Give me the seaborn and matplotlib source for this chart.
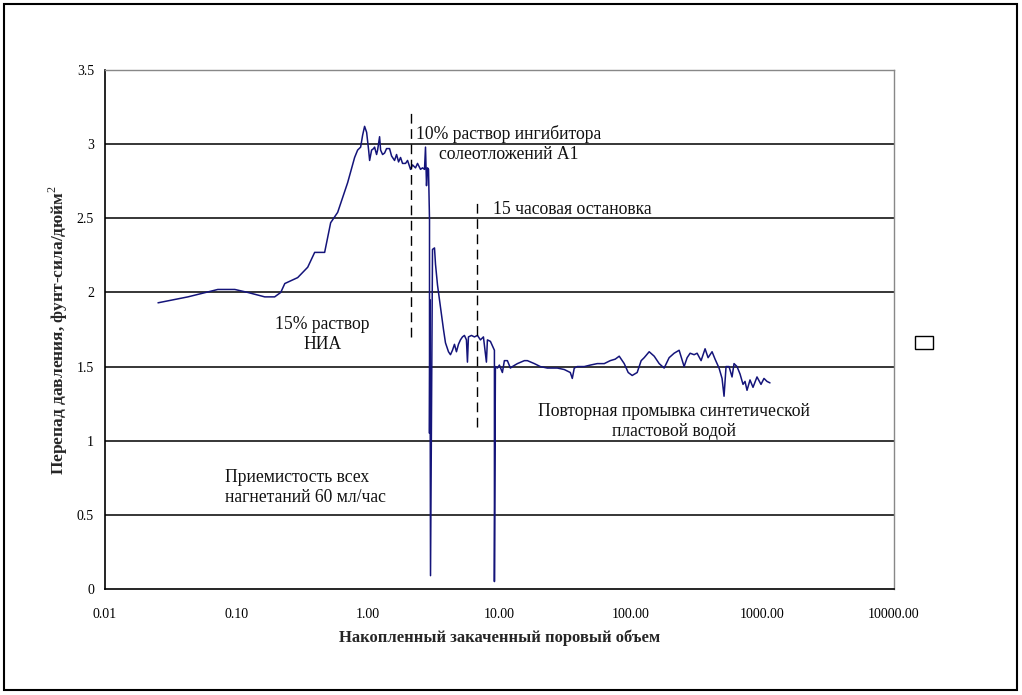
import numpy as np
import pandas as pd
import matplotlib
matplotlib.use("Agg")
import matplotlib.pyplot as plt
from matplotlib.patches import Rectangle
from matplotlib.ticker import FixedLocator, FixedFormatter
import seaborn as sns

# ---- data ----
pore_volume = [
    0.0253, 0.0427, 0.0721, 0.0971, 0.1218, 0.164, 0.195, 0.217, 0.233, 0.292,
    0.348, 0.393, 0.468, 0.520, 0.588, 0.700, 0.791, 0.834, 0.879, 0.910,
    0.942, 0.976, 1.011, 1.029, 1.065, 1.103, 1.122, 1.162, 1.183, 1.225,
    1.247, 1.291, 1.337, 1.384, 1.459, 1.511, 1.592, 1.649, 1.708, 1.768,
    1.831, 1.930, 1.999, 2.106, 2.181, 2.298, 2.380, 2.508, 2.598, 2.690,
    2.737, 2.786, 2.835, 2.885, 2.936, 2.936, 2.960, 2.988, 3.094, 3.204,
    3.261, 3.377, 3.497, 3.621, 3.750, 3.883, 4.093, 4.238, 4.389, 4.545,
    4.706, 4.874, 5.047, 5.227, 5.413, 5.605, 5.705, 5.805, 6.118, 6.448,
    6.795, 7.161, 7.547, 7.952, 8.093, 8.528, 8.835, 9.148, 9.148, 9.309,
    9.638, 9.98, 10.52, 10.89, 11.48, 12.10, 12.53, 13.68, 15.46, 16.29,
    18.41, 20.44, 23.11, 25.21, 27.52, 31.10, 34.54, 35.77, 37.04, 39.04,
    44.13, 49.00, 55.38, 62.58, 69.54, 75.86, 81.36, 88.80, 95.21, 102.1,
    111.4, 119.5, 126.0, 137.5, 150.1, 163.8, 178.7, 195.0, 212.8, 232.3,
    253.4, 267.2, 281.6, 301.9, 318.2, 341.2, 365.9, 385.6, 413.5, 435.8,
    467.3, 492.5, 510.0, 528.2, 556.7, 586.6, 607.5, 640.2, 674.7, 711.1,
    736.4, 762.6, 803.5, 846.8, 908.2, 974.1, 1026.4, 1081.7, 1140.0,
]
pressure_drop = [
    1.93, 1.97, 2.02, 2.02, 2.00, 1.97, 1.97, 2.00, 2.06, 2.10,
    2.17, 2.27, 2.27, 2.47, 2.54, 2.74, 2.91, 2.96, 2.98, 3.06,
    3.12, 3.08, 2.96, 2.89, 2.96, 2.97, 2.98, 2.93, 2.96, 3.05,
    2.96, 2.93, 2.94, 2.97, 2.97, 2.92, 2.89, 2.93, 2.88, 2.91,
    2.87, 2.87, 2.89, 2.83, 2.86, 2.84, 2.87, 2.83, 2.84, 2.83,
    2.98, 2.72, 2.84, 2.83, 2.49, 1.05, 1.95, 0.09, 2.29, 2.30,
    2.19, 2.05, 1.95, 1.85, 1.75, 1.66, 1.60, 1.58, 1.61, 1.65,
    1.60, 1.65, 1.68, 1.70, 1.71, 1.68, 1.53, 1.70, 1.71, 1.70,
    1.71, 1.68, 1.70, 1.53, 1.68, 1.67, 1.64, 1.61, 0.05, 1.50,
    1.49, 1.51, 1.46, 1.54, 1.54, 1.49, 1.50, 1.52, 1.54, 1.54,
    1.52, 1.50, 1.49, 1.49, 1.49, 1.48, 1.46, 1.42, 1.49, 1.50,
    1.50, 1.51, 1.52, 1.52, 1.54, 1.55, 1.57, 1.52, 1.46, 1.44,
    1.46, 1.54, 1.56, 1.60, 1.57, 1.52, 1.49, 1.56, 1.59, 1.61,
    1.50, 1.56, 1.59, 1.58, 1.59, 1.54, 1.62, 1.56, 1.60, 1.55,
    1.49, 1.42, 1.30, 1.50, 1.50, 1.43, 1.52, 1.50, 1.45, 1.38,
    1.40, 1.34, 1.41, 1.36, 1.43, 1.38, 1.42, 1.40, 1.39,
]

x_ticks = [0.01, 0.1, 1, 10, 100, 1000, 10000]
x_tick_labels = ["0.01", "0.10", "1.00", "10.00", "100.00", "1000.00", "10000.00"]
y_ticks = [0, 0.5, 1, 1.5, 2, 2.5, 3, 3.5]
y_tick_labels = ["0", "0.5", "1", "1.5", "2", "2.5", "3", "3.5"]

x_label = "Накопленный закаченный поровый объем"
y_label = "Перепад давления, фунт-сила/дюйм$^2$"

stage_markers_x = [2.14, 6.79]
stage_markers_y0 = [1.70, 1.09]
stage_markers_y1 = [3.24, 2.62]

notes = [
    ("10% раствор ингибитора\nсолеотложений А1", 11.7, 3.00, "center"),
    ("15 часовая остановка", 9.0, 2.56, "left"),
    ("15% раствор\nНИА", 0.452, 1.716, "center"),
    ("Приемистость всех\nнагнетаний 60 мл/час", 0.0815, 0.684, "left"),
    ("Повторная промывка синтетической\nпластовой водой", 212.8, 1.129, "center"),
]

# ---- plotting ----
sns.set_style("white")
plt.rcParams["font.family"] = ["Liberation Serif", "DejaVu Serif"]
plt.rcParams["mathtext.fontset"] = "custom"
plt.rcParams["mathtext.rm"] = "Liberation Serif"

df = pd.DataFrame({"pv": pore_volume, "dp": pressure_drop})

fig = plt.figure(figsize=(10.22, 6.95), dpi=100)
ax = fig.add_axes([105 / 1022, 1 - 589 / 695, (894 - 105) / 1022, (589 - 70) / 695])

sns.lineplot(data=df, x="pv", y="dp", sort=False, estimator=None, ax=ax,
             color="#14147a", linewidth=1.1)

ax.set_xscale("log")
ax.set_xlim(0.01, 10000)
ax.set_ylim(0, 3.5)
ax.xaxis.set_major_locator(FixedLocator(x_ticks))
ax.xaxis.set_major_formatter(FixedFormatter(x_tick_labels))
ax.xaxis.set_minor_locator(FixedLocator([]))
ax.set_yticks(y_ticks)
ax.set_yticklabels(y_tick_labels)

for yv in y_ticks[1:-1]:
    ax.axhline(yv, color="black", linewidth=1.1, zorder=0)

for xv, y0, y1 in zip(stage_markers_x, stage_markers_y0, stage_markers_y1):
    ax.plot([xv, xv], [y0, y1], color="black", linewidth=1.0, linestyle=(0, (7, 4)))

for txt, xv, yv, ha in notes:
    ax.text(xv, yv, txt, ha=ha, va="center", multialignment=ha,
            fontsize=12.7, color="#111111", linespacing=1.2)

ax.tick_params(axis="both", which="major", direction="out", length=5, width=1,
               labelsize=10, colors="black")
ax.tick_params(axis="x", pad=9)
ax.tick_params(axis="y", pad=3)

for side in ["left", "bottom"]:
    ax.spines[side].set_color("black")
    ax.spines[side].set_linewidth(1.2)
for side in ["top", "right"]:
    ax.spines[side].set_color("#888888")
    ax.spines[side].set_linewidth(1.0)

ax.set_xlabel(x_label, fontsize=12, fontweight="bold", labelpad=6)
ax.set_ylabel(y_label, fontsize=12.5, fontweight="bold", labelpad=5)

# empty legend box (as in the original)
fig.patches.append(Rectangle((915 / 1022, 1 - 349 / 695), 18 / 1022, 13 / 695,
                             transform=fig.transFigure, fill=False,
                             edgecolor="black", linewidth=1.0))
# outer frame
fig.patches.append(Rectangle((4 / 1022, 5 / 695), 1013 / 1022, 686 / 695,
                             transform=fig.transFigure, fill=False,
                             edgecolor="black", linewidth=1.5))

fig.savefig("out.png", dpi=100)
